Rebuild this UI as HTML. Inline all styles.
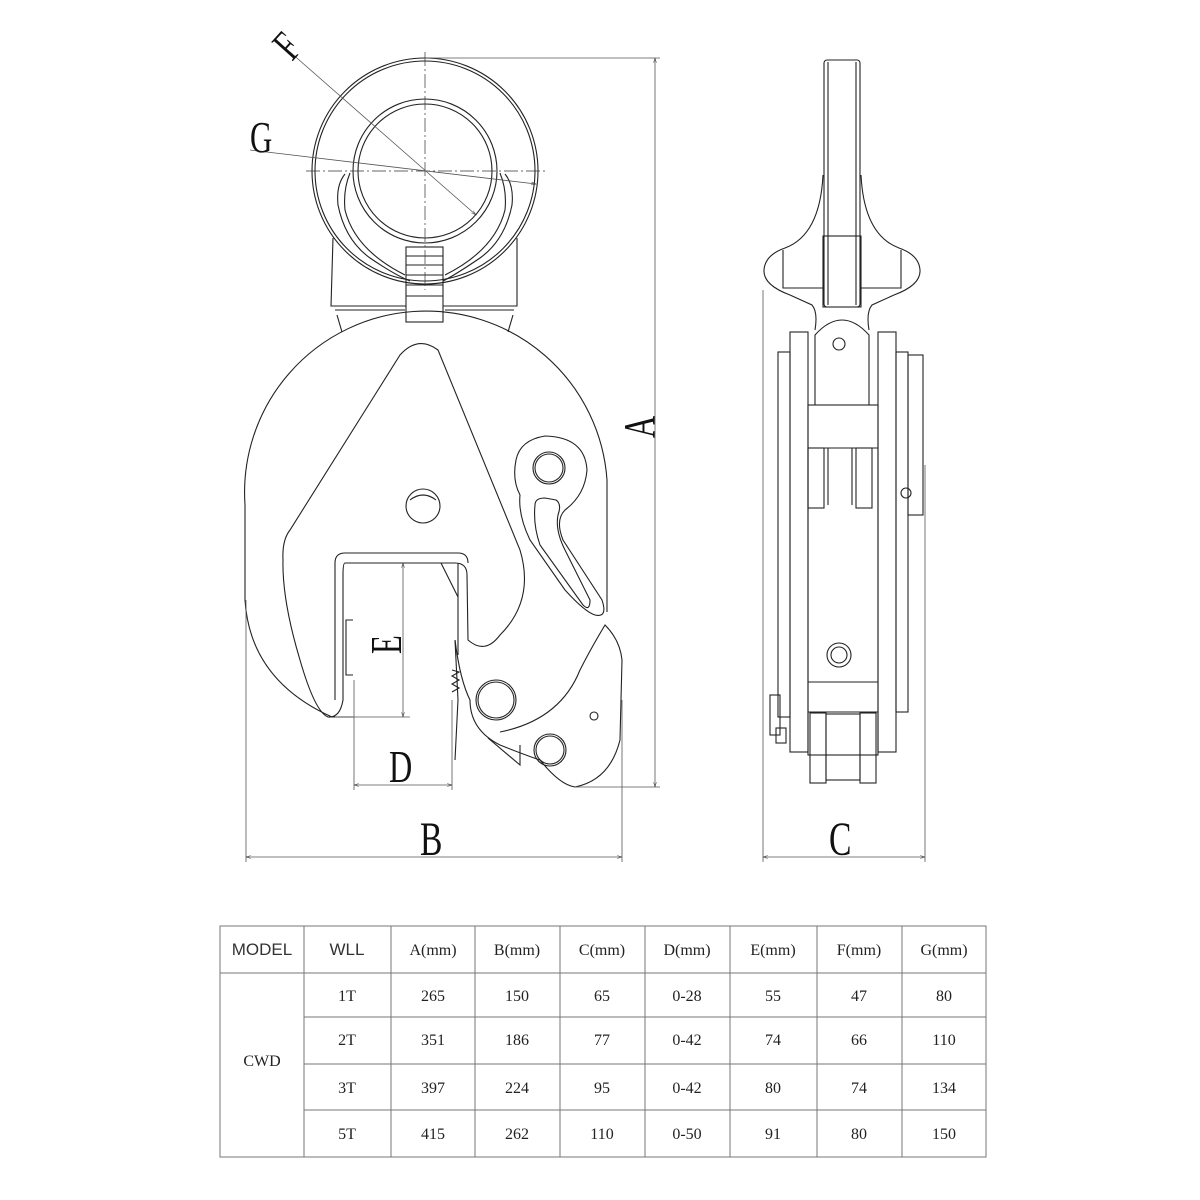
<!DOCTYPE html>
<html><head><meta charset="utf-8"><style>
html,body{margin:0;padding:0;background:#fff;}
svg{display:block}
.l{fill:none;stroke:#222;stroke-width:1.1}
.t{fill:none;stroke:#555;stroke-width:0.8}
.c{fill:none;stroke:#333;stroke-width:0.7;stroke-dasharray:14 3 2 3}
.lab{font-family:"Liberation Serif",serif;fill:#111}
.tx{font-family:"Liberation Serif",serif;font-size:16px;fill:#222}
.hs{font-family:"Liberation Sans",sans-serif;font-size:17px;fill:#333}
</style></head><body>
<svg width="1200" height="1200" viewBox="0 0 1200 1200" xmlns="http://www.w3.org/2000/svg">
<defs><marker id="a" viewBox="0 0 10 10" refX="10" refY="5" markerWidth="8" markerHeight="6" orient="auto-start-reverse"><path d="M0,2 L10,5 L0,8" fill="none" stroke="#333"/></marker></defs>

<!-- ring -->
<circle class="l" cx="425" cy="171" r="113"/>
<circle class="l" cx="425" cy="171" r="110"/>
<circle class="l" cx="425" cy="171" r="72"/>
<circle class="l" cx="425" cy="171" r="67"/>
<path class="l" d="M345 174 Q336 185 338 205 Q345 240 370 258 Q395 275 410 281"/>
<path class="l" d="M350 173 Q343 190 345 210 Q355 250 405 275"/>
<path class="l" d="M505 174 Q514 185 512 205 Q505 240 480 258 Q455 275 443 281"/>
<path class="l" d="M500 173 Q507 190 505 210 Q495 250 445 275"/>
<path class="l" d="M333 238 L331 306 L406 306"/>
<path class="l" d="M517 238 L517 306 L443 306"/>
<path class="l" d="M335 310 L405 310 M445 310 L514 310"/>
<path class="l" d="M337 315 L342 332 M513 315 L508 332"/>
<rect class="l" x="406" y="247" width="37" height="75"/>
<path class="l" d="M406 256 H443 M406 265 H443 M406 275 H443 M406 285 H443 M406 296 H443"/>
<line class="c" x1="306" y1="171" x2="545" y2="171"/>
<line class="c" x1="425" y1="52" x2="425" y2="290"/>
<line class="t" x1="290" y1="52" x2="476" y2="215" marker-end="url(#a)"/>
<line class="t" x1="250" y1="150" x2="536" y2="184" marker-end="url(#a)"/>
<text class="lab" font-size="44" transform="translate(292,62) rotate(-48) scale(0.7,1)">F</text>
<text class="lab" font-size="44" transform="translate(250,152) scale(0.7,1)">G</text>

<path class="l" d="M245 600 L245 505 A181 181 0 0 1 607 480 L607 612"/>
<path class="l" d="M245 600 Q250 680 332 717 L353 717"/>
<path class="l" d="M400 355 Q418 335 438 350 L520 550 Q535 600 500 635 Q485 655 468 640 L467 575 Q467 563 455 563 L345 563 Q343 563 343 575 L343 700 Q340 718 328 717 Q315 712 300 660 Q282 600 283 560 Q282 540 290 530 Z"/>
<path class="l" d="M335 700 L335 563 Q335 553 345 553 L458 553 Q468 553 468 563"/>
<path class="l" d="M441 563 L458 597 M458 563 L458 655"/>
<path class="l" d="M353 620 L346 620 L346 675 L353 675"/>
<circle class="l" cx="423" cy="506" r="17"/>
<path class="l" d="M410 500 Q423 490 436 500"/>
<path class="l" d="M516 460 Q520 440 545 436 Q585 437 587 470 Q585 495 565 510 Q555 520 563 540 L602 600 Q608 618 595 615 Q585 612 565 590 L530 540 Q518 515 520 495 Q512 480 516 460 Z"/>
<path class="l" d="M535 505 Q535 498 545 498 L556 500 Q562 504 558 515 Q555 530 565 550 L590 600 Q590 612 583 605 L540 545 Q533 525 535 505 Z"/>
<circle class="l" cx="549" cy="468" r="16"/>
<circle class="l" cx="549" cy="468" r="14"/>
<path class="l" d="M455 640 Q460 680 470 700 Q470 730 500 745 Q525 755 540 760 Q560 785 575 787 Q610 780 620 740 L622 660 Q620 640 605 625 Q590 650 580 670 Q560 720 500 732"/>
<path class="l" d="M455 640 L458 700 L455 760"/>
<path class="l" d="M452 670 L459 672 L452 676 L459 680 L452 684 L459 688 L452 692"/>
<path class="l" d="M488 738 L520 765 L520 745"/>
<circle class="l" cx="496" cy="700" r="20"/>
<circle class="l" cx="496" cy="700" r="18"/>
<circle class="l" cx="550" cy="750" r="16"/>
<circle class="l" cx="550" cy="750" r="14"/>
<circle class="l" cx="594" cy="716" r="4"/>

<line class="t" x1="425" y1="58" x2="660" y2="58"/>
<line class="t" x1="575" y1="787" x2="660" y2="787"/>
<line class="t" x1="655" y1="58" x2="655" y2="787" marker-start="url(#a)" marker-end="url(#a)"/>
<text class="lab" font-size="44" transform="translate(654,438) rotate(-90) scale(0.7,1)">A</text>
<line class="t" x1="246" y1="600" x2="246" y2="862"/>
<line class="t" x1="622" y1="700" x2="622" y2="862"/>
<line class="t" x1="246" y1="857" x2="622" y2="857" marker-start="url(#a)" marker-end="url(#a)"/>
<text class="lab" font-size="48" transform="translate(420,855) scale(0.7,1)">B</text>
<line class="t" x1="354" y1="680" x2="354" y2="790"/>
<line class="t" x1="452" y1="700" x2="452" y2="790"/>
<line class="t" x1="354" y1="785" x2="452" y2="785" marker-start="url(#a)" marker-end="url(#a)"/>
<text class="lab" font-size="46" transform="translate(389,782) scale(0.7,1)">D</text>
<line class="t" x1="335" y1="717" x2="410" y2="717"/>
<line class="t" x1="403" y1="563" x2="403" y2="717" marker-start="url(#a)" marker-end="url(#a)"/>
<text class="lab" font-size="44" transform="translate(401,654) rotate(-90) scale(0.7,1)">E</text>

<!-- SIDE VIEW -->
<rect class="l" x="824" y="60" width="36" height="247" rx="3"/>
<line class="l" x1="828" y1="62" x2="828" y2="305"/><line class="l" x1="856" y1="62" x2="856" y2="305"/>
<rect class="l" x="823" y="236" width="38" height="71"/>
<path class="l" d="M823 175 Q820 235 785 248 Q765 255 764 270 Q763 285 790 295 L812 305 Q818 312 815 330"/>
<path class="l" d="M861 175 Q864 235 899 248 Q919 255 920 270 Q921 285 894 295 L872 305 Q866 312 869 330"/>
<path class="l" d="M783 250 L783 288 L823 288 M901 250 L901 288 L861 288"/>
<path class="l" d="M815 335 Q842 305 869 335 L869 405 L815 405 Z"/>
<circle class="l" cx="839" cy="344" r="6"/>
<rect class="l" x="790" y="332" width="18" height="420"/>
<rect class="l" x="878" y="332" width="18" height="420"/>
<rect class="l" x="778" y="352" width="12" height="365"/>
<rect class="l" x="896" y="352" width="12" height="360"/>
<rect class="l" x="908" y="355" width="15" height="160"/>
<rect class="l" x="808" y="405" width="70" height="350"/>
<path class="l" d="M808 448 H878 M808 682 H878 M808 712 H878"/>
<rect class="l" x="808" y="448" width="16" height="60"/>
<rect class="l" x="856" y="448" width="16" height="60"/>
<line class="l" x1="828" y1="448" x2="828" y2="505"/>
<line class="l" x1="852" y1="448" x2="852" y2="505"/>
<circle class="l" cx="839" cy="655" r="12"/>
<circle class="l" cx="839" cy="655" r="8"/>
<circle class="l" cx="906" cy="493" r="5"/>
<rect class="l" x="810" y="713" width="16" height="70"/>
<rect class="l" x="860" y="713" width="16" height="70"/>
<rect class="l" x="826" y="714" width="34" height="66"/>
<rect class="l" x="770" y="695" width="10" height="40"/>
<rect class="l" x="776" y="728" width="10" height="15"/>
<line class="t" x1="763" y1="290" x2="763" y2="862"/>
<line class="t" x1="925" y1="465" x2="925" y2="862"/>
<line class="t" x1="763" y1="857" x2="925" y2="857" marker-start="url(#a)" marker-end="url(#a)"/>
<text class="lab" font-size="48" transform="translate(829,855) scale(0.7,1)">C</text>

<!-- TABLE -->
<g stroke="#777" stroke-width="1" fill="none">
<rect x="220" y="926" width="766" height="231"/>
<line x1="220" y1="973" x2="986" y2="973"/>
<line x1="304" y1="1017" x2="986" y2="1017"/>
<line x1="304" y1="1064" x2="986" y2="1064"/>
<line x1="304" y1="1110" x2="986" y2="1110"/>
<line x1="304" y1="926" x2="304" y2="1157"/>
<line x1="391" y1="926" x2="391" y2="1157"/>
<line x1="475" y1="926" x2="475" y2="1157"/>
<line x1="560" y1="926" x2="560" y2="1157"/>
<line x1="645" y1="926" x2="645" y2="1157"/>
<line x1="730" y1="926" x2="730" y2="1157"/>
<line x1="817" y1="926" x2="817" y2="1157"/>
<line x1="902" y1="926" x2="902" y2="1157"/>
</g>
<g text-anchor="middle">
<text class="hs" x="262" y="955">MODEL</text>
<text class="hs" x="347" y="955">WLL</text>
<text class="tx" x="433" y="955">A(mm)</text>
<text class="tx" x="517" y="955">B(mm)</text>
<text class="tx" x="602" y="955">C(mm)</text>
<text class="tx" x="687" y="955">D(mm)</text>
<text class="tx" x="773" y="955">E(mm)</text>
<text class="tx" x="859" y="955">F(mm)</text>
<text class="tx" x="944" y="955">G(mm)</text>
<text class="tx" x="262" y="1066">CWD</text>
<text class="tx" x="347" y="1001">1T</text><text class="tx" x="433" y="1001">265</text><text class="tx" x="517" y="1001">150</text><text class="tx" x="602" y="1001">65</text><text class="tx" x="687" y="1001">0-28</text><text class="tx" x="773" y="1001">55</text><text class="tx" x="859" y="1001">47</text><text class="tx" x="944" y="1001">80</text>
<text class="tx" x="347" y="1045">2T</text><text class="tx" x="433" y="1045">351</text><text class="tx" x="517" y="1045">186</text><text class="tx" x="602" y="1045">77</text><text class="tx" x="687" y="1045">0-42</text><text class="tx" x="773" y="1045">74</text><text class="tx" x="859" y="1045">66</text><text class="tx" x="944" y="1045">110</text>
<text class="tx" x="347" y="1093">3T</text><text class="tx" x="433" y="1093">397</text><text class="tx" x="517" y="1093">224</text><text class="tx" x="602" y="1093">95</text><text class="tx" x="687" y="1093">0-42</text><text class="tx" x="773" y="1093">80</text><text class="tx" x="859" y="1093">74</text><text class="tx" x="944" y="1093">134</text>
<text class="tx" x="347" y="1139">5T</text><text class="tx" x="433" y="1139">415</text><text class="tx" x="517" y="1139">262</text><text class="tx" x="602" y="1139">110</text><text class="tx" x="687" y="1139">0-50</text><text class="tx" x="773" y="1139">91</text><text class="tx" x="859" y="1139">80</text><text class="tx" x="944" y="1139">150</text>
</g>
</svg>
</body></html>
